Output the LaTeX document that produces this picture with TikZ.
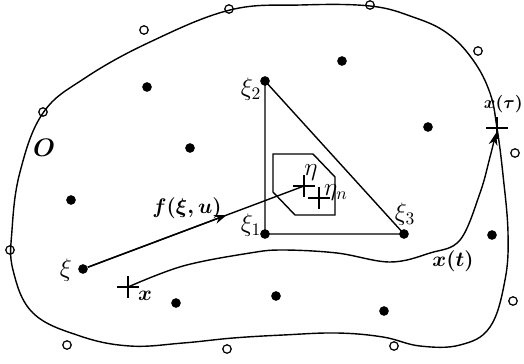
\documentclass[tikz,border=0pt]{standalone}
\usepackage{amsmath}
\usepackage{amssymb}
\usepackage{tikz}
\usetikzlibrary{arrows.meta, shapes.misc, calc}

\begin{document}
\begin{tikzpicture}[
    x=0.02cm, y=-0.02cm,
    dot/.style={circle, fill=black, inner sep=0pt, minimum size=5.5pt},
    hole/.style={circle, draw, line width=0.7pt, inner sep=0pt, minimum size=4.8pt},
    plusmark/.style={cross out, draw, rotate=45, line width=0.8pt, inner sep=0pt, minimum size=8pt},
    lbl/.style={font=\Large, inner sep=1pt},
    blbl/.style={font=\large, inner sep=1pt},
    line/.style={line width=0.8pt},
    arr/.style={-{Stealth[length=7pt, width=5pt]}, line width=0.8pt},
]
    \useasboundingbox (0,0) rectangle (524,363);

    % Region boundary
    \draw[line] plot[smooth cycle, tension=0.65] coordinates {
        (300,5) (370,6) (413,17) (447,33) (473,60) (490,93) (497,128)
        (503,175) (508,233) (505,280) (490,327) (460,345) (420,346)
        (383,337) (337,333) (283,335) (233,338) (183,343) (130,346)
        (80,336) (33,313) (13,270) (12,230) (20,172) (43,113) (85,78)
        (150,42) (230,10)};

    % Grid points inside
    \foreach \px/\py [count=\i] in {147/87, 190/148, 71/200, 342/61, 428/127,
                                    492/235, 176/303, 276/296, 384/311}
        \node[dot] (d\i) at (\px,\py) {};

    % Points outside / on the boundary
    \foreach \px/\py [count=\i] in {144/30, 229/9, 370/5, 478/51, 515/153, 513/301,
                                    394/346, 227/349, 67/345, 10/250, 43/112}
        \node[hole] (o\i) at (\px,\py) {};

    % Simplex
    \node[dot] (xi1) at (265,234) {};
    \node[dot] (xi2) at (265,81)  {};
    \node[dot] (xi3) at (404,234) {};
    \draw[line] (xi1.center) -- (xi2.center) -- (xi3.center) -- cycle;

    \node[lbl] at (251,225) {$\xi_1$};
    \node[lbl] at (251,89)  {$\xi_2$};
    \node[lbl] at (405,214) {$\xi_3$};

    % Cell around eta
    \draw[line] (273,154) -- (313,154) -- (335,177) -- (335,215) -- (295,215) -- (273,192) -- cycle;

    \node[plusmark] (eta)  at (304,186) {};
    \node[plusmark] (etan) at (319,198) {};
    \node[lbl] at (311,173) {$\eta$};
    \node[lbl] at (336,193) {$\eta_n$};

    % Starting point and vector field
    \node[dot] (xi) at (83,269) {};
    \node[lbl] at (66,270) {$\xi$};
    \draw[line] (xi) -- (eta.center);
    \draw[arr] (xi) -- ($(xi)!0.65!(eta)$);
    \node[blbl] at (187,208) {$\boldsymbol{f(\xi,u)}$};

    % Trajectory
    \node[plusmark] (x)    at (128,287) {};
    \node[plusmark] (xtau) at (497,128) {};
    \draw[arr] plot[smooth, tension=0.6] coordinates {
        (x.center) (183,266) (250,253) (283,250) (337,253) (390,262)
        (430,253) (460,240) (480,193) (490,157) (496,133)};
    \node[blbl] at (145,296) {$\boldsymbol{x}$};
    \node[blbl] at (453,261) {$\boldsymbol{x(t)}$};
    \node[font=\normalsize, inner sep=0.5pt, anchor=east] at (524,104) {$\boldsymbol{x(\tau)}$};
    \node[font=\Large, inner sep=1pt] at (44,148) {$\boldsymbol{O}$};
\end{tikzpicture}
\end{document}
